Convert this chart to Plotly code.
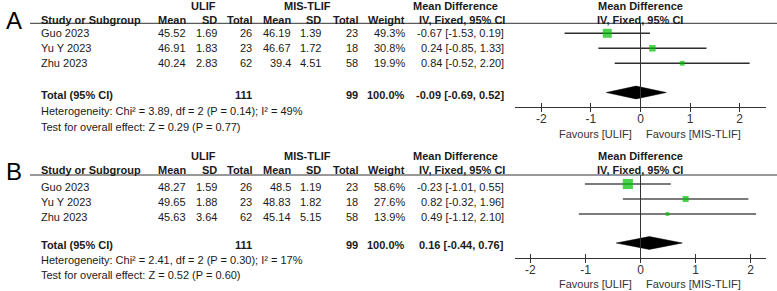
import plotly.graph_objects as go

# ---------------- data ----------------
studies = ["Guo 2023", "Yu Y 2023", "Zhu 2023"]
ulif_n = [26, 23, 62]
mis_n = [23, 18, 58]
total_n = [111, 99]
total_weight = 100.0

A_ulif_mean = [45.52, 46.91, 40.24]
A_ulif_sd = [1.69, 1.83, 2.83]
A_mis_mean = [46.19, 46.67, 39.4]
A_mis_sd = [1.39, 1.72, 4.51]
A_weight = [49.3, 30.8, 19.9]
A_md = [-0.67, 0.24, 0.84]
A_lo = [-1.53, -0.85, -0.52]
A_hi = [0.19, 1.33, 2.20]
A_total = [-0.09, -0.69, 0.52]
A_het = [3.89, 2, 0.14, 49]
A_test = [0.29, 0.77]

B_ulif_mean = [48.27, 49.65, 45.63]
B_ulif_sd = [1.59, 1.88, 3.64]
B_mis_mean = [48.5, 48.83, 45.14]
B_mis_sd = [1.19, 1.82, 5.15]
B_weight = [58.6, 27.6, 13.9]
B_md = [-0.23, 0.82, 0.49]
B_lo = [-1.01, -0.32, -1.12]
B_hi = [0.55, 1.96, 2.10]
B_total = [0.16, -0.44, 0.76]
B_het = [2.41, 2, 0.30, 17]
B_test = [0.52, 0.60]

tick_vals = [-2, -1, 0, 1, 2]
tick_text = ["-2", "-1", "0", "1", "2"]

# ---------------- layout ----------------
W, H = 777, 291
FONT = "Liberation Sans, Arial, sans-serif"
TXT = "#1a1a1a"
GREEN = "#00c000"
LINE = "#333333"

panels = [
    dict(label="A", xa="x", xo="x3", rng=2.53, ci_col="#2e2e2e",
         label_y=20, group_y=5.5, head_y=19.5, line_y=23.3,
         text_y=[33.3, 48.3, 63.3], mark_y=[33.3, 48.3, 63.3],
         tot_text_y=95, tot_mark_y=92.5, het_y=111, test_y=126.7,
         axis_y=107.3, fav_y=134,
         um=A_ulif_mean, us=A_ulif_sd, mm=A_mis_mean, ms=A_mis_sd,
         w=A_weight, md=A_md, lo=A_lo, hi=A_hi, tot=A_total,
         het=A_het, test=A_test),
    dict(label="B", xa="x2", xo="x4", rng=2.28, ci_col="#505050",
         label_y=171, group_y=156, head_y=170, line_y=175,
         text_y=[186.7, 201.7, 216.7], mark_y=[184, 199, 214],
         tot_text_y=245, tot_mark_y=243, het_y=260, test_y=275,
         axis_y=258.3, fav_y=284,
         um=B_ulif_mean, us=B_ulif_sd, mm=B_mis_mean, ms=B_mis_sd,
         w=B_weight, md=B_md, lo=B_lo, hi=B_hi, tot=B_total,
         het=B_het, test=B_test),
]

fig = go.Figure()
ann = []
shapes = []


def txt(x, y, s, anchor="left", bold=False, size=11, color=TXT):
    ann.append(dict(x=x / W, y=y, xref="paper", yref="y", text=("<b>%s</b>" % s) if bold else s,
                    showarrow=False, xanchor=anchor, yanchor="middle",
                    font=dict(family=FONT, size=size, color=color), borderpad=0))


dom = [515 / W, 766 / W]
layout_axes = {}

for i, p in enumerate(panels):
    xa = p["xa"]
    # group headers
    txt(14, p["label_y"], p["label"], "center", size=24, color="#000")
    txt(203, p["group_y"], "ULIF", "center", True)
    txt(307, p["group_y"], "MIS-TLIF", "center", True)
    txt(455, p["group_y"], "Mean Difference", "center", True)
    txt(640, p["group_y"], "Mean Difference", "center", True)
    # column headers
    hy = p["head_y"]
    txt(40, hy, "Study or Subgroup", "left", True)
    txt(187, hy, "Mean", "right", True)
    txt(218, hy, "SD", "right", True)
    txt(253, hy, "Total", "right", True)
    txt(292, hy, "Mean", "right", True)
    txt(322, hy, "SD", "right", True)
    txt(359, hy, "Total", "right", True)
    txt(406, hy, "Weight", "right", True)
    txt(462, hy, "IV, Fixed, 95% CI", "center", True)
    txt(640, hy, "IV, Fixed, 95% CI", "center", True)
    shapes.append(dict(type="line", xref="paper", yref="y", x0=30 / W, x1=1,
                       y0=p["line_y"], y1=p["line_y"], line=dict(color=LINE, width=1)))
    # rows
    for k, s in enumerate(studies):
        y = p["text_y"][k]
        txt(40, y, s)
        txt(187, y, str(p["um"][k]), "right")
        txt(218, y, str(p["us"][k]), "right")
        txt(253, y, str(ulif_n[k]), "right")
        txt(292, y, str(p["mm"][k]), "right")
        txt(322, y, str(p["ms"][k]), "right")
        txt(359, y, str(mis_n[k]), "right")
        txt(406, y, "%.1f%%" % p["w"][k], "right")
        txt(505, y, "%.2f [%.2f, %.2f]" % (p["md"][k], p["lo"][k], p["hi"][k]), "right")
    # totals
    ty = p["tot_text_y"]
    txt(40, ty, "Total (95% CI)", "left", True)
    txt(253, ty, str(total_n[0]), "right", True)
    txt(359, ty, str(total_n[1]), "right", True)
    txt(406, ty, "%.1f%%" % total_weight, "right", True)
    t = p["tot"]
    txt(505, ty, "%.2f [%.2f, %.2f]" % (t[0], t[1], t[2]), "right", True)
    h = p["het"]
    txt(40, p["het_y"], "Heterogeneity: Chi² = %.2f, df = %d (P = %.2f); I² = %d%%" % (h[0], h[1], h[2], h[3]))
    z = p["test"]
    txt(40, p["test_y"], "Test for overall effect: Z = %.2f (P = %.2f)" % (z[0], z[1]))
    txt(633, p["fav_y"], "Favours [ULIF]", "right", color="#333")
    txt(645, p["fav_y"], "Favours [MIS-TLIF]", "left", color="#333")

    # zero line
    shapes.append(dict(type="line", xref=xa, yref="y", x0=0, x1=0, y0=p["line_y"], y1=p["axis_y"],
                       line=dict(color=LINE, width=1)))

    # CI lines
    cx, cy = [], []
    for k in range(len(studies)):
        cx += [p["lo"][k], p["hi"][k], None]
        cy += [p["mark_y"][k], p["mark_y"][k], None]
    fig.add_trace(go.Scatter(x=cx, y=cy, mode="lines", xaxis=xa, yaxis="y",
                             line=dict(color=p["ci_col"], width=1.4), hoverinfo="skip", showlegend=False))
    # squares
    sizes = [0.588 * (w ** 0.7) for w in p["w"]]
    fig.add_trace(go.Scatter(x=p["md"], y=p["mark_y"], mode="markers", xaxis=xa, yaxis="y",
                             marker=dict(symbol="square", size=sizes, color=GREEN, line=dict(width=0)),
                             showlegend=False))
    # diamond
    yc, dh = p["tot_mark_y"], 6.4
    fig.add_trace(go.Scatter(x=[t[1], t[0], t[2], t[0], t[1]], y=[yc, yc - dh, yc, yc + dh, yc],
                             mode="lines", fill="toself", fillcolor="#000", xaxis=xa, yaxis="y",
                             line=dict(color="#000", width=0.5), showlegend=False))
    # overlay axis trace (invisible) for the downward tick halves
    fig.add_trace(go.Scatter(x=[0], y=[p["axis_y"]], mode="markers", xaxis=p["xo"], yaxis="y",
                             marker=dict(size=1, opacity=0), showlegend=False, hoverinfo="skip"))

    pos = (H - p["axis_y"]) / H
    base = dict(domain=dom, range=[-p["rng"], p["rng"]], anchor="free", position=pos,
                tickvals=tick_vals, showgrid=False, zeroline=False, fixedrange=True)
    layout_axes["xaxis" if xa == "x" else "xaxis2"] = dict(
        base, showline=True, linecolor=LINE, linewidth=1, ticks="inside", ticklen=4,
        tickcolor=LINE, ticktext=tick_text, tickfont=dict(family=FONT, size=12, color="#333"))
    layout_axes["xaxis3" if i == 0 else "xaxis4"] = dict(
        base, overlaying=xa, showline=False, ticks="outside", ticklen=4, tickcolor=LINE,
        showticklabels=False)

fig.update_layout(
    width=W, height=H, margin=dict(l=0, r=0, t=0, b=0),
    paper_bgcolor="white", plot_bgcolor="rgba(0,0,0,0)",
    yaxis=dict(domain=[0, 1], range=[H, 0], visible=False, anchor="free", position=0, fixedrange=True),
    annotations=ann, shapes=shapes, showlegend=False,
    **layout_axes,
)

fig.write_html("out.html", config={"displayModeBar": False},
               post_script="document.body.style.margin='0';document.body.style.overflow='hidden';")
